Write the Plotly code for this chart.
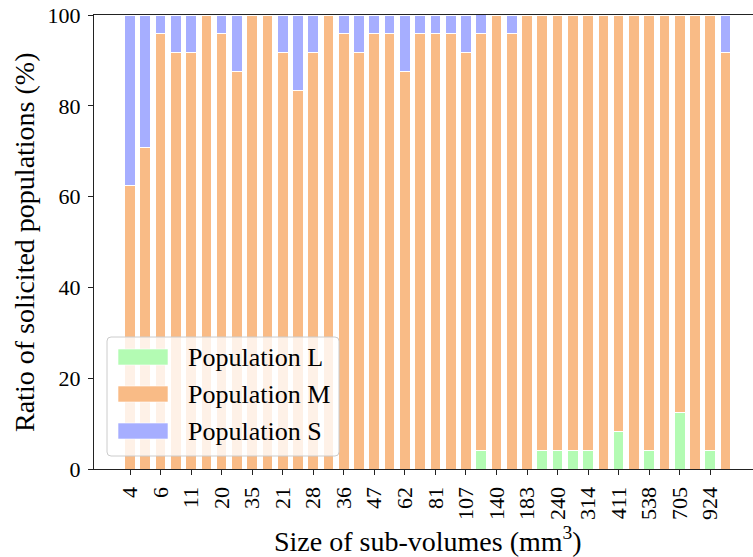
import plotly.graph_objects as go

# Stacked share of each solicited population per sub-volume (percent)
n_bars = 40
tick_labels = ["4", "6", "11", "20", "35", "21", "28", "36", "47", "62",
               "81", "107", "140", "183", "240", "314", "411", "538", "705", "924"]

pop_L = [0, 0, 0, 0, 0, 0, 0, 0, 0, 0,
         0, 0, 0, 0, 0, 0, 0, 0, 0, 0,
         0, 0, 0, 4.17, 0, 0, 0, 4.17, 4.17, 4.17,
         4.17, 0, 8.33, 0, 4.17, 0, 12.5, 0, 4.17, 0]

pop_M = [62.5, 70.83, 95.83, 91.67, 91.67, 100, 95.83, 87.5, 100, 100,
         91.67, 83.33, 91.67, 100, 95.83, 91.67, 95.83, 95.83, 87.5, 95.83,
         95.83, 95.83, 91.67, 91.67, 100, 95.83, 100, 95.83, 95.83, 95.83,
         95.83, 100, 91.67, 100, 95.83, 100, 87.5, 100, 95.83, 91.67]

pop_S = [37.5, 29.17, 4.17, 8.33, 8.33, 0, 4.17, 12.5, 0, 0,
         8.33, 16.67, 8.33, 0, 4.17, 8.33, 4.17, 4.17, 12.5, 4.17,
         4.17, 4.17, 8.33, 4.17, 0, 4.17, 0, 0, 0, 0,
         0, 0, 0, 0, 0, 0, 0, 0, 0, 8.33]

series_names = ["Population L", "Population M", "Population S"]
series_colors = ["#b3fbb3", "#f9bb86", "#a6aeff"]

FONT = "Liberation Serif, DejaVu Serif, serif"
W, H = 753, 557
ML, MR, MT, MB = 94, 0, 15, 88
PW, PH = W - ML - MR, H - MT - MB

x = list(range(n_bars))
fig = go.Figure()
for name, vals, col in zip(series_names, [pop_L, pop_M, pop_S], series_colors):
    fig.add_trace(go.Bar(
        x=x, y=vals, name=name, width=0.7,
        marker=dict(color=col, line=dict(color="white", width=1)),
        showlegend=False,
    ))

pitch = 15.27
x_left = -(130 - ML) / pitch
x_right = x_left + PW / pitch


def px(v):
    return (v - ML) / PW


def py(v):
    return (H - MB - v) / PH


# Legend drawn as a framed box with wide colour patches
bx0, bx1, by0, by1, r = 107, 339, 337, 456, 4
rx, ry = r / PW, r / PH
X0, X1, Y0, Y1 = px(bx0), px(bx1), py(by1), py(by0)
frame = (f"M {X0+rx},{Y0} L {X1-rx},{Y0} Q {X1},{Y0} {X1},{Y0+ry} "
         f"L {X1},{Y1-ry} Q {X1},{Y1} {X1-rx},{Y1} L {X0+rx},{Y1} "
         f"Q {X0},{Y1} {X0},{Y1-ry} L {X0},{Y0+ry} Q {X0},{Y0} {X0+rx},{Y0} Z")
shapes = [dict(type="path", path=frame, xref="paper", yref="paper",
               fillcolor="rgba(255,255,255,0.8)",
               line=dict(color="#cccccc", width=1), layer="above")]
annotations = []
row_centres = [357, 394, 431]
for name, col, yc in zip(series_names, series_colors, row_centres):
    shapes.append(dict(type="rect", xref="paper", yref="paper",
                       x0=px(118), x1=px(168), y0=py(yc + 8), y1=py(yc - 8),
                       fillcolor=col, line=dict(color="rgba(255,255,255,0.6)", width=1),
                       layer="above"))
    annotations.append(dict(text=name, xref="paper", yref="paper",
                            x=px(186), y=py(yc), xanchor="left", yanchor="middle",
                            showarrow=False, font=dict(family=FONT, size=26, color="black")))

annotations.append(dict(text="Size of sub-volumes (mm<sup>3</sup>)", xref="paper", yref="paper",
                        x=px(428), y=py(539), xanchor="center", yanchor="middle",
                        showarrow=False, font=dict(family=FONT, size=28, color="black")))
annotations.append(dict(text="Ratio of solicited populations (%)", xref="paper", yref="paper",
                        x=px(24), y=0.5, xanchor="center", yanchor="middle", textangle=-90,
                        showarrow=False, font=dict(family=FONT, size=28, color="black")))

fig.update_layout(
    width=W, height=H, barmode="stack",
    margin=dict(l=ML, r=MR, t=MT, b=MB, pad=0),
    paper_bgcolor="white", plot_bgcolor="white",
    font=dict(family=FONT, size=22, color="black"),
    shapes=shapes, annotations=annotations,
    xaxis=dict(range=[x_left, x_right], tickmode="array",
               tickvals=list(range(0, n_bars, 2)), ticktext=tick_labels,
               tickangle=-90, ticks="outside", ticklen=5, tickwidth=1, tickcolor="#222",
               showline=True, linecolor="#222", linewidth=1.3, mirror=True,
               showgrid=False, zeroline=False, ticklabelstandoff=3),
    yaxis=dict(range=[0, 100], tickvals=[0, 20, 40, 60, 80, 100],
               ticks="outside", ticklen=5, tickwidth=1, tickcolor="#222",
               showline=True, linecolor="#222", linewidth=1.3, mirror=False,
               showgrid=False, zeroline=False, ticklabelstandoff=3),
)

fig.write_html("out.html")
